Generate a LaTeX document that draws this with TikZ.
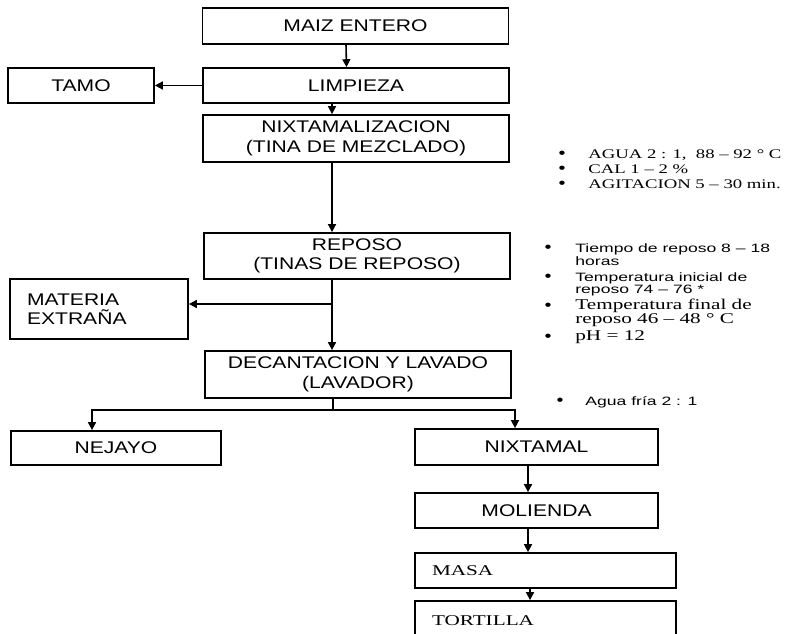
\documentclass[tikz,border=0pt]{standalone}
\usepackage{fontspec}
\setmainfont{Liberation Sans}[FakeStretch=1.25]
\newfontfamily\notefont{Liberation Serif}[FakeStretch=1.42]
\newfontfamily\smallfont{Liberation Sans}[FakeStretch=1.45]
\usetikzlibrary{arrows.meta}

\tikzset{
    box/.style={draw, line width=1pt, align=center, inner sep=0pt, minimum width=6.12cm, minimum height=0.72cm, font=\fontsize{9.6}{11}\selectfont},
    leftbox/.style={box, align=left, inner xsep=0.34cm, minimum width=0pt},
    link/.style={line width=0.9pt},
    flow/.style={link, -{Triangle[width=4.5pt,length=4.5pt]}},
    sansnote/.style={anchor=base west, inner sep=0pt, font=\fontsize{6.9}{8}\smallfont},
    serifnote/.style={anchor=base west, inner sep=0pt, font=\fontsize{8.5}{9}\notefont},
    dot/.style={anchor=base, inner sep=0pt, font=\fontsize{9}{9}\selectfont},
}

\begin{document}
\begin{tikzpicture}[x=0.02cm, y=-0.02cm]
    \useasboundingbox (0,0) rectangle (786,634);
    \clip (0,0) rectangle (786,634);

    % process boxes
    \node[box] (maiz) at (355.5,26) {MAIZ ENTERO};
    \node[box, minimum height=0.7cm] (limp) at (356,85.5) {LIMPIEZA};
    \node[box, minimum width=2.92cm, minimum height=0.7cm] (tamo) at (81,85.5) {TAMO};
    \node[box, minimum height=0.94cm] (nixta) at (356,138.5) {NIXTAMALIZACION\\(TINA DE MEZCLADO)};
    \node[box, minimum height=0.92cm] (reposo) at (357,256) {REPOSO\\(TINAS DE REPOSO)};
    \node[leftbox, text width=2.88cm, minimum height=1.2cm] (materia) at (99,309) {MATERIA\\EXTRAÑA};
    \node[box, minimum height=0.94cm] (decant) at (358,374.5) {DECANTACION Y LAVADO\\(LAVADOR)};
    \node[box, minimum width=4.2cm, minimum height=0.68cm] (nejayo) at (116,448) {NEJAYO};
    \node[box, minimum width=4.86cm] (nixtamal) at (536.5,447) {NIXTAMAL};
    \node[box, minimum width=4.86cm, minimum height=0.7cm] (molienda) at (536.5,510.5) {MOLIENDA};
    \node[leftbox, text width=4.54cm, minimum height=0.7cm, font=\fontsize{8.5}{11}\notefont] (masa) at (545.5,570.5) {MASA};
    \node[leftbox, text width=4.54cm, minimum height=0.78cm, font=\fontsize{8.5}{11}\notefont] (tortilla) at (545.5,620.5) {TORTILLA};

    % connectors
    \draw[flow] ([xshift=-0.19cm]maiz.south) -- ([xshift=-0.19cm]limp.north);
    \draw[flow] (limp.west) -- (tamo.east);
    \draw[flow] ([xshift=-0.48cm]limp.south) -- ([xshift=-0.48cm]nixta.north);
    \draw[flow] ([xshift=-0.48cm]nixta.south) -- ([xshift=-0.5cm]reposo.north);
    \coordinate (split1) at (332,304);
    \draw[link] (reposo.south -| split1) -- (split1);
    \draw[flow] (split1) -- (decant.north -| split1);
    \draw[flow] (split1) -- (split1 -| materia.east);
    \coordinate (split2) at (333,410);
    \draw[link] (decant.south -| split2) -- (split2);
    \draw[flow] (split2) -| ([xshift=-0.48cm]nejayo.north);
    \draw[flow] (split2) -| ([xshift=-0.43cm]nixtamal.north);
    \draw[flow] ([xshift=-0.17cm]nixtamal.south) -- ([xshift=-0.17cm]molienda.north);
    \draw[flow] ([xshift=-0.17cm]molienda.south) -- ([xshift=-0.35cm]masa.north);
    \draw[flow] ([xshift=-0.31cm]masa.south) -- ([xshift=-0.31cm]tortilla.north);

    % notes
    \node[dot] (b1) at (562,158.5) {•};
    \node[dot] (b2) at (562,173.5) {•};
    \node[dot] (b3) at (562,188.5) {•};
    \node[serifnote, font=\fontsize{7.5}{8}\notefont] (agua) at (588,158.5) {AGUA 2 : 1,\ \ 88 – 92 ° C};
    \node[serifnote, font=\fontsize{7.5}{8}\notefont] (cal) at (588,173.5) {CAL 1 – 2 \%};
    \node[serifnote, font=\fontsize{7.5}{8}\notefont] (agit) at (588,188.5) {AGITACION 5 – 30 min.};

    \node[dot] (b4) at (548,253) {•};
    \node[dot] (b5) at (548,282) {•};
    \node[dot] (b6) at (548,311) {•};
    \node[dot] (b7) at (548,341) {•};
    \node[sansnote] (tiempo) at (575,253) {Tiempo de reposo 8 – 18};
    \node[sansnote] (horas) at (575,265.5) {horas};
    \node[sansnote] (tini) at (575,281.5) {Temperatura inicial de};
    \node[sansnote] (tini2) at (575,294) {reposo 74 – 76 *};
    \node[serifnote] (tfin) at (575,309.5) {Temperatura final de};
    \node[serifnote] (tfin2) at (575,323.5) {reposo 46 – 48 ° C};
    \node[serifnote] (ph) at (575,340.5) {pH = 12};

    \node[dot] (b8) at (560,405) {•};
    \node[sansnote] (fria) at (585,405) {Agua fría 2 : 1};
\end{tikzpicture}
\end{document}
